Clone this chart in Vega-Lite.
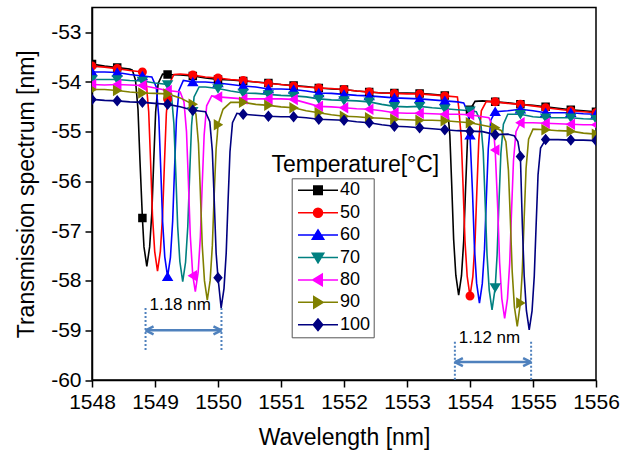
{
  "$schema": "https://vega.github.io/schema/vega-lite/v6.json",
  "width": 504,
  "height": 372.5,
  "autosize": {"type": "none"},
  "padding": {"left": 92, "top": 7.5, "right": 35, "bottom": 79},
  "background": "white",
  "config": {
    "view": {"stroke": "black", "strokeWidth": 1.5},
    "axis": {
      "domainColor": "black", "domainWidth": 1.5, "tickColor": "black", "tickWidth": 1.5,
      "labelFont": "Liberation Sans", "labelFontSize": 21, "labelColor": "black",
      "titleFont": "Liberation Sans", "titleFontSize": 23, "titleFontWeight": "normal", "titleColor": "black",
      "grid": false, "labelFlush": false, "labelOverlap": false, "labelPadding": 4
    }
  },
  "datasets": {
    "spec": [
      {"T":40,"x":1548.0,"y":-53.64},{"T":40,"x":1548.2,"y":-53.68},{"T":40,"x":1548.4,"y":-53.71},{"T":40,"x":1548.6,"y":-53.74},{"T":40,"x":1548.64,"y":-53.76},{"T":40,"x":1548.69,"y":-53.96},{"T":40,"x":1548.73,"y":-54.55},{"T":40,"x":1548.76,"y":-55.54},{"T":40,"x":1548.8,"y":-56.74},{"T":40,"x":1548.825,"y":-57.32},{"T":40,"x":1548.87,"y":-57.71},{"T":40,"x":1548.915,"y":-57.32},{"T":40,"x":1548.95,"y":-56.63},{"T":40,"x":1548.98,"y":-55.58},{"T":40,"x":1549.01,"y":-54.61},{"T":40,"x":1549.05,"y":-54.03},{"T":40,"x":1549.12,"y":-53.84},{"T":40,"x":1549.2,"y":-53.85},{"T":40,"x":1549.4,"y":-53.86},{"T":40,"x":1549.6,"y":-53.88},{"T":40,"x":1549.8,"y":-53.92},{"T":40,"x":1550.0,"y":-53.95},{"T":40,"x":1550.2,"y":-53.96},{"T":40,"x":1550.4,"y":-53.98},{"T":40,"x":1550.6,"y":-54.0},{"T":40,"x":1550.8,"y":-54.02},{"T":40,"x":1551.0,"y":-54.05},{"T":40,"x":1551.2,"y":-54.07},{"T":40,"x":1551.4,"y":-54.09},{"T":40,"x":1551.6,"y":-54.12},{"T":40,"x":1551.8,"y":-54.14},{"T":40,"x":1552.0,"y":-54.15},{"T":40,"x":1552.2,"y":-54.18},{"T":40,"x":1552.4,"y":-54.2},{"T":40,"x":1552.6,"y":-54.22},{"T":40,"x":1552.8,"y":-54.22},{"T":40,"x":1553.0,"y":-54.22},{"T":40,"x":1553.2,"y":-54.23},{"T":40,"x":1553.4,"y":-54.25},{"T":40,"x":1553.6,"y":-54.27},{"T":40,"x":1553.64,"y":-54.47},{"T":40,"x":1553.68,"y":-55.07},{"T":40,"x":1553.71,"y":-56.08},{"T":40,"x":1553.74,"y":-57.16},{"T":40,"x":1553.775,"y":-57.89},{"T":40,"x":1553.82,"y":-58.29},{"T":40,"x":1553.865,"y":-57.9},{"T":40,"x":1553.9,"y":-57.2},{"T":40,"x":1553.93,"y":-56.14},{"T":40,"x":1553.96,"y":-55.16},{"T":40,"x":1554.0,"y":-54.56},{"T":40,"x":1554.08,"y":-54.39},{"T":40,"x":1554.2,"y":-54.38},{"T":40,"x":1554.4,"y":-54.4},{"T":40,"x":1554.6,"y":-54.42},{"T":40,"x":1554.8,"y":-54.45},{"T":40,"x":1555.0,"y":-54.47},{"T":40,"x":1555.2,"y":-54.5},{"T":40,"x":1555.4,"y":-54.53},{"T":40,"x":1555.6,"y":-54.56},{"T":40,"x":1555.8,"y":-54.58},{"T":40,"x":1556.0,"y":-54.6},

      {"T":50,"x":1548.0,"y":-53.68},{"T":50,"x":1548.2,"y":-53.7},{"T":50,"x":1548.4,"y":-53.73},{"T":50,"x":1548.6,"y":-53.77},{"T":50,"x":1548.8,"y":-53.8},{"T":50,"x":1548.86,"y":-54.0},{"T":50,"x":1548.9,"y":-54.6},{"T":50,"x":1548.93,"y":-55.6},{"T":50,"x":1548.96,"y":-56.69},{"T":50,"x":1548.995,"y":-57.41},{"T":50,"x":1549.04,"y":-57.81},{"T":50,"x":1549.085,"y":-57.41},{"T":50,"x":1549.12,"y":-56.7},{"T":50,"x":1549.15,"y":-55.63},{"T":50,"x":1549.18,"y":-54.64},{"T":50,"x":1549.2,"y":-54.34},{"T":50,"x":1549.22,"y":-54.05},{"T":50,"x":1549.3,"y":-53.85},{"T":50,"x":1549.4,"y":-53.84},{"T":50,"x":1549.6,"y":-53.86},{"T":50,"x":1549.8,"y":-53.9},{"T":50,"x":1550.0,"y":-53.92},{"T":50,"x":1550.2,"y":-53.95},{"T":50,"x":1550.4,"y":-53.97},{"T":50,"x":1550.6,"y":-54.0},{"T":50,"x":1550.8,"y":-54.03},{"T":50,"x":1551.0,"y":-54.05},{"T":50,"x":1551.2,"y":-54.08},{"T":50,"x":1551.4,"y":-54.1},{"T":50,"x":1551.6,"y":-54.12},{"T":50,"x":1551.8,"y":-54.13},{"T":50,"x":1552.0,"y":-54.15},{"T":50,"x":1552.2,"y":-54.18},{"T":50,"x":1552.4,"y":-54.2},{"T":50,"x":1552.6,"y":-54.22},{"T":50,"x":1552.8,"y":-54.23},{"T":50,"x":1553.0,"y":-54.24},{"T":50,"x":1553.2,"y":-54.24},{"T":50,"x":1553.4,"y":-54.26},{"T":50,"x":1553.6,"y":-54.28},{"T":50,"x":1553.8,"y":-54.3},{"T":50,"x":1553.82,"y":-54.5},{"T":50,"x":1553.86,"y":-55.1},{"T":50,"x":1553.89,"y":-56.1},{"T":50,"x":1553.92,"y":-57.19},{"T":50,"x":1553.955,"y":-57.91},{"T":50,"x":1554.0,"y":-58.31},{"T":50,"x":1554.045,"y":-57.92},{"T":50,"x":1554.08,"y":-57.21},{"T":50,"x":1554.11,"y":-56.15},{"T":50,"x":1554.14,"y":-55.17},{"T":50,"x":1554.18,"y":-54.58},{"T":50,"x":1554.26,"y":-54.39},{"T":50,"x":1554.4,"y":-54.4},{"T":50,"x":1554.6,"y":-54.43},{"T":50,"x":1554.8,"y":-54.45},{"T":50,"x":1555.0,"y":-54.48},{"T":50,"x":1555.2,"y":-54.52},{"T":50,"x":1555.4,"y":-54.55},{"T":50,"x":1555.6,"y":-54.58},{"T":50,"x":1555.8,"y":-54.6},{"T":50,"x":1556.0,"y":-54.62},

      {"T":60,"x":1548.0,"y":-53.8},{"T":60,"x":1548.2,"y":-53.8},{"T":60,"x":1548.4,"y":-53.81},{"T":60,"x":1548.6,"y":-53.85},{"T":60,"x":1548.8,"y":-53.88},{"T":60,"x":1548.95,"y":-53.9},{"T":60,"x":1549.02,"y":-54.1},{"T":60,"x":1549.06,"y":-54.7},{"T":60,"x":1549.09,"y":-55.71},{"T":60,"x":1549.12,"y":-56.79},{"T":60,"x":1549.155,"y":-57.52},{"T":60,"x":1549.2,"y":-57.92},{"T":60,"x":1549.245,"y":-57.53},{"T":60,"x":1549.28,"y":-56.81},{"T":60,"x":1549.31,"y":-55.75},{"T":60,"x":1549.34,"y":-54.76},{"T":60,"x":1549.38,"y":-54.17},{"T":60,"x":1549.45,"y":-53.97},{"T":60,"x":1549.6,"y":-54.0},{"T":60,"x":1549.8,"y":-54.0},{"T":60,"x":1550.0,"y":-54.02},{"T":60,"x":1550.2,"y":-54.05},{"T":60,"x":1550.4,"y":-54.08},{"T":60,"x":1550.6,"y":-54.1},{"T":60,"x":1550.8,"y":-54.14},{"T":60,"x":1551.0,"y":-54.14},{"T":60,"x":1551.2,"y":-54.15},{"T":60,"x":1551.4,"y":-54.18},{"T":60,"x":1551.6,"y":-54.22},{"T":60,"x":1551.8,"y":-54.23},{"T":60,"x":1552.0,"y":-54.25},{"T":60,"x":1552.2,"y":-54.27},{"T":60,"x":1552.4,"y":-54.28},{"T":60,"x":1552.6,"y":-54.3},{"T":60,"x":1552.8,"y":-54.32},{"T":60,"x":1553.0,"y":-54.33},{"T":60,"x":1553.2,"y":-54.34},{"T":60,"x":1553.4,"y":-54.36},{"T":60,"x":1553.6,"y":-54.38},{"T":60,"x":1553.8,"y":-54.4},{"T":60,"x":1553.9,"y":-54.42},{"T":60,"x":1553.97,"y":-54.62},{"T":60,"x":1554.0,"y":-55.07},{"T":60,"x":1554.04,"y":-56.23},{"T":60,"x":1554.07,"y":-57.32},{"T":60,"x":1554.105,"y":-58.05},{"T":60,"x":1554.15,"y":-58.45},{"T":60,"x":1554.195,"y":-58.06},{"T":60,"x":1554.23,"y":-57.37},{"T":60,"x":1554.26,"y":-56.32},{"T":60,"x":1554.29,"y":-55.35},{"T":60,"x":1554.33,"y":-54.77},{"T":60,"x":1554.4,"y":-54.6},{"T":60,"x":1554.6,"y":-54.58},{"T":60,"x":1554.8,"y":-54.55},{"T":60,"x":1555.0,"y":-54.58},{"T":60,"x":1555.2,"y":-54.62},{"T":60,"x":1555.4,"y":-54.62},{"T":60,"x":1555.6,"y":-54.62},{"T":60,"x":1555.8,"y":-54.64},{"T":60,"x":1556.0,"y":-54.65},

      {"T":70,"x":1548.0,"y":-53.95},{"T":70,"x":1548.2,"y":-53.95},{"T":70,"x":1548.4,"y":-53.95},{"T":70,"x":1548.6,"y":-53.97},{"T":70,"x":1548.8,"y":-53.98},{"T":70,"x":1549.0,"y":-54.02},{"T":70,"x":1549.2,"y":-54.05},{"T":70,"x":1549.26,"y":-54.25},{"T":70,"x":1549.3,"y":-54.84},{"T":70,"x":1549.33,"y":-55.84},{"T":70,"x":1549.36,"y":-56.91},{"T":70,"x":1549.395,"y":-57.62},{"T":70,"x":1549.44,"y":-58.02},{"T":70,"x":1549.485,"y":-57.63},{"T":70,"x":1549.52,"y":-56.92},{"T":70,"x":1549.55,"y":-55.86},{"T":70,"x":1549.58,"y":-54.88},{"T":70,"x":1549.6,"y":-54.59},{"T":70,"x":1549.62,"y":-54.3},{"T":70,"x":1549.7,"y":-54.1},{"T":70,"x":1549.8,"y":-54.1},{"T":70,"x":1550.0,"y":-54.13},{"T":70,"x":1550.2,"y":-54.18},{"T":70,"x":1550.4,"y":-54.22},{"T":70,"x":1550.6,"y":-54.23},{"T":70,"x":1550.8,"y":-54.25},{"T":70,"x":1551.0,"y":-54.27},{"T":70,"x":1551.2,"y":-54.28},{"T":70,"x":1551.4,"y":-54.3},{"T":70,"x":1551.6,"y":-54.34},{"T":70,"x":1551.8,"y":-54.36},{"T":70,"x":1552.0,"y":-54.37},{"T":70,"x":1552.2,"y":-54.38},{"T":70,"x":1552.4,"y":-54.4},{"T":70,"x":1552.6,"y":-54.45},{"T":70,"x":1552.8,"y":-54.49},{"T":70,"x":1553.0,"y":-54.5},{"T":70,"x":1553.2,"y":-54.49},{"T":70,"x":1553.4,"y":-54.52},{"T":70,"x":1553.6,"y":-54.54},{"T":70,"x":1553.8,"y":-54.56},{"T":70,"x":1554.0,"y":-54.58},{"T":70,"x":1554.1,"y":-54.6},{"T":70,"x":1554.17,"y":-54.8},{"T":70,"x":1554.21,"y":-55.4},{"T":70,"x":1554.24,"y":-56.4},{"T":70,"x":1554.27,"y":-57.47},{"T":70,"x":1554.305,"y":-58.19},{"T":70,"x":1554.35,"y":-58.59},{"T":70,"x":1554.4,"y":-58.14},{"T":70,"x":1554.43,"y":-57.49},{"T":70,"x":1554.46,"y":-56.42},{"T":70,"x":1554.49,"y":-55.44},{"T":70,"x":1554.53,"y":-54.85},{"T":70,"x":1554.6,"y":-54.65},{"T":70,"x":1554.8,"y":-54.65},{"T":70,"x":1555.0,"y":-54.7},{"T":70,"x":1555.2,"y":-54.72},{"T":70,"x":1555.4,"y":-54.72},{"T":70,"x":1555.6,"y":-54.72},{"T":70,"x":1555.8,"y":-54.74},{"T":70,"x":1556.0,"y":-54.75},

      {"T":80,"x":1548.0,"y":-54.05},{"T":80,"x":1548.2,"y":-54.06},{"T":80,"x":1548.4,"y":-54.05},{"T":80,"x":1548.6,"y":-54.06},{"T":80,"x":1548.8,"y":-54.07},{"T":80,"x":1549.0,"y":-54.12},{"T":80,"x":1549.2,"y":-54.17},{"T":80,"x":1549.4,"y":-54.2},{"T":80,"x":1549.46,"y":-54.4},{"T":80,"x":1549.5,"y":-55.0},{"T":80,"x":1549.53,"y":-56.01},{"T":80,"x":1549.56,"y":-57.09},{"T":80,"x":1549.6,"y":-57.9},{"T":80,"x":1549.64,"y":-58.22},{"T":80,"x":1549.685,"y":-57.83},{"T":80,"x":1549.72,"y":-57.12},{"T":80,"x":1549.75,"y":-56.05},{"T":80,"x":1549.78,"y":-55.07},{"T":80,"x":1549.82,"y":-54.48},{"T":80,"x":1549.9,"y":-54.28},{"T":80,"x":1550.0,"y":-54.3},{"T":80,"x":1550.2,"y":-54.32},{"T":80,"x":1550.4,"y":-54.34},{"T":80,"x":1550.6,"y":-54.34},{"T":80,"x":1550.8,"y":-54.34},{"T":80,"x":1551.0,"y":-54.34},{"T":80,"x":1551.2,"y":-54.35},{"T":80,"x":1551.4,"y":-54.42},{"T":80,"x":1551.6,"y":-54.49},{"T":80,"x":1551.8,"y":-54.5},{"T":80,"x":1552.0,"y":-54.52},{"T":80,"x":1552.2,"y":-54.54},{"T":80,"x":1552.4,"y":-54.55},{"T":80,"x":1552.6,"y":-54.58},{"T":80,"x":1552.8,"y":-54.62},{"T":80,"x":1553.0,"y":-54.63},{"T":80,"x":1553.2,"y":-54.63},{"T":80,"x":1553.4,"y":-54.64},{"T":80,"x":1553.6,"y":-54.65},{"T":80,"x":1553.8,"y":-54.65},{"T":80,"x":1554.0,"y":-54.66},{"T":80,"x":1554.2,"y":-54.7},{"T":80,"x":1554.3,"y":-54.72},{"T":80,"x":1554.37,"y":-54.92},{"T":80,"x":1554.4,"y":-55.37},{"T":80,"x":1554.44,"y":-56.54},{"T":80,"x":1554.47,"y":-57.63},{"T":80,"x":1554.505,"y":-58.36},{"T":80,"x":1554.55,"y":-58.76},{"T":80,"x":1554.595,"y":-58.36},{"T":80,"x":1554.63,"y":-57.65},{"T":80,"x":1554.66,"y":-56.58},{"T":80,"x":1554.69,"y":-55.59},{"T":80,"x":1554.73,"y":-55.0},{"T":80,"x":1554.8,"y":-54.82},{"T":80,"x":1555.0,"y":-54.82},{"T":80,"x":1555.2,"y":-54.83},{"T":80,"x":1555.4,"y":-54.84},{"T":80,"x":1555.6,"y":-54.85},{"T":80,"x":1555.8,"y":-54.86},{"T":80,"x":1556.0,"y":-54.86},

      {"T":90,"x":1548.0,"y":-54.15},{"T":90,"x":1548.2,"y":-54.15},{"T":90,"x":1548.4,"y":-54.17},{"T":90,"x":1548.6,"y":-54.2},{"T":90,"x":1548.8,"y":-54.22},{"T":90,"x":1549.0,"y":-54.23},{"T":90,"x":1549.2,"y":-54.24},{"T":90,"x":1549.4,"y":-54.32},{"T":90,"x":1549.6,"y":-54.45},{"T":90,"x":1549.65,"y":-54.65},{"T":90,"x":1549.69,"y":-55.24},{"T":90,"x":1549.72,"y":-56.22},{"T":90,"x":1549.75,"y":-57.29},{"T":90,"x":1549.785,"y":-58.0},{"T":90,"x":1549.83,"y":-58.39},{"T":90,"x":1549.875,"y":-58.0},{"T":90,"x":1549.91,"y":-57.3},{"T":90,"x":1549.94,"y":-56.25},{"T":90,"x":1549.97,"y":-55.35},{"T":90,"x":1549.99,"y":-55.05},{"T":90,"x":1550.0,"y":-54.86},{"T":90,"x":1550.08,"y":-54.55},{"T":90,"x":1550.2,"y":-54.41},{"T":90,"x":1550.4,"y":-54.41},{"T":90,"x":1550.6,"y":-54.45},{"T":90,"x":1550.8,"y":-54.47},{"T":90,"x":1551.0,"y":-54.5},{"T":90,"x":1551.2,"y":-54.52},{"T":90,"x":1551.4,"y":-54.58},{"T":90,"x":1551.6,"y":-54.62},{"T":90,"x":1551.8,"y":-54.66},{"T":90,"x":1552.0,"y":-54.69},{"T":90,"x":1552.2,"y":-54.7},{"T":90,"x":1552.4,"y":-54.72},{"T":90,"x":1552.6,"y":-54.73},{"T":90,"x":1552.8,"y":-54.75},{"T":90,"x":1553.0,"y":-54.76},{"T":90,"x":1553.2,"y":-54.77},{"T":90,"x":1553.4,"y":-54.77},{"T":90,"x":1553.6,"y":-54.78},{"T":90,"x":1553.8,"y":-54.8},{"T":90,"x":1554.0,"y":-54.82},{"T":90,"x":1554.2,"y":-54.87},{"T":90,"x":1554.4,"y":-54.92},{"T":90,"x":1554.5,"y":-54.98},{"T":90,"x":1554.57,"y":-55.2},{"T":90,"x":1554.61,"y":-55.78},{"T":90,"x":1554.64,"y":-56.76},{"T":90,"x":1554.67,"y":-57.82},{"T":90,"x":1554.705,"y":-58.53},{"T":90,"x":1554.75,"y":-58.92},{"T":90,"x":1554.8,"y":-58.45},{"T":90,"x":1554.83,"y":-57.81},{"T":90,"x":1554.86,"y":-56.74},{"T":90,"x":1554.89,"y":-55.74},{"T":90,"x":1554.93,"y":-55.15},{"T":90,"x":1555.0,"y":-54.95},{"T":90,"x":1555.2,"y":-54.96},{"T":90,"x":1555.4,"y":-54.98},{"T":90,"x":1555.6,"y":-54.99},{"T":90,"x":1555.8,"y":-55.03},{"T":90,"x":1556.0,"y":-55.05},

      {"T":100,"x":1548.0,"y":-54.35},{"T":100,"x":1548.2,"y":-54.37},{"T":100,"x":1548.4,"y":-54.38},{"T":100,"x":1548.6,"y":-54.4},{"T":100,"x":1548.8,"y":-54.41},{"T":100,"x":1549.0,"y":-54.43},{"T":100,"x":1549.2,"y":-54.45},{"T":100,"x":1549.4,"y":-54.5},{"T":100,"x":1549.6,"y":-54.57},{"T":100,"x":1549.8,"y":-54.6},{"T":100,"x":1549.87,"y":-54.8},{"T":100,"x":1549.91,"y":-55.39},{"T":100,"x":1549.94,"y":-56.38},{"T":100,"x":1549.97,"y":-57.44},{"T":100,"x":1550.0,"y":-57.94},{"T":100,"x":1550.05,"y":-58.55},{"T":100,"x":1550.095,"y":-58.16},{"T":100,"x":1550.13,"y":-57.45},{"T":100,"x":1550.16,"y":-56.39},{"T":100,"x":1550.19,"y":-55.41},{"T":100,"x":1550.23,"y":-54.82},{"T":100,"x":1550.3,"y":-54.63},{"T":100,"x":1550.4,"y":-54.65},{"T":100,"x":1550.6,"y":-54.67},{"T":100,"x":1550.8,"y":-54.69},{"T":100,"x":1551.0,"y":-54.7},{"T":100,"x":1551.2,"y":-54.7},{"T":100,"x":1551.4,"y":-54.72},{"T":100,"x":1551.6,"y":-54.75},{"T":100,"x":1551.8,"y":-54.76},{"T":100,"x":1552.0,"y":-54.77},{"T":100,"x":1552.2,"y":-54.8},{"T":100,"x":1552.4,"y":-54.82},{"T":100,"x":1552.6,"y":-54.86},{"T":100,"x":1552.8,"y":-54.89},{"T":100,"x":1553.0,"y":-54.9},{"T":100,"x":1553.2,"y":-54.92},{"T":100,"x":1553.4,"y":-54.94},{"T":100,"x":1553.6,"y":-54.96},{"T":100,"x":1553.8,"y":-54.98},{"T":100,"x":1554.0,"y":-54.99},{"T":100,"x":1554.2,"y":-55.0},{"T":100,"x":1554.4,"y":-55.06},{"T":100,"x":1554.6,"y":-55.05},{"T":100,"x":1554.7,"y":-55.08},{"T":100,"x":1554.76,"y":-55.2},{"T":100,"x":1554.8,"y":-55.5},{"T":100,"x":1554.83,"y":-56.84},{"T":100,"x":1554.86,"y":-57.9},{"T":100,"x":1554.895,"y":-58.6},{"T":100,"x":1554.94,"y":-58.99},{"T":100,"x":1554.985,"y":-58.61},{"T":100,"x":1555.02,"y":-57.91},{"T":100,"x":1555.05,"y":-56.87},{"T":100,"x":1555.08,"y":-55.87},{"T":100,"x":1555.12,"y":-55.33},{"T":100,"x":1555.2,"y":-55.16},{"T":100,"x":1555.4,"y":-55.16},{"T":100,"x":1555.6,"y":-55.17},{"T":100,"x":1555.8,"y":-55.17},{"T":100,"x":1556.0,"y":-55.18}
    ],
    "dots": [
      {"x":1548.85,"y":-58.55,"y2":-59.43},{"x":1550.055,"y":-58.55,"y2":-59.43},
      {"x":1553.76,"y":-59.23,"y2":-60},{"x":1554.97,"y":-59.23,"y2":-60}
    ],
    "arrows": [
      {"x":1548.85,"x2":1550.055,"y":-59.0},
      {"x":1553.76,"x2":1554.97,"y":-59.64}
    ],
    "labels": [
      {"x":1549.40,"y":-58.49,"t":"1.18 nm"},
      {"x":1554.31,"y":-59.15,"t":"1.12 nm"}
    ],
    "ltitle": [
      {"x":1550.85,"y":-55.82,"t":"Temperature[°C]"}
    ]
  },
  "layer": [
    {
      "data": {"name": "spec"},
      "mark": {"type": "line", "strokeWidth": 1.6, "clip": true},
      "encoding": {
        "x": {"field": "x", "type": "quantitative",
          "scale": {"domain": [1548, 1556], "nice": false, "zero": false},
          "axis": {"title": "Wavelength [nm]", "values": [1548,1548.5,1549,1549.5,1550,1550.5,1551,1551.5,1552,1552.5,1553,1553.5,1554,1554.5,1555,1555.5,1556],
            "labelExpr": "datum.value % 1 === 0 ? '' + datum.value : ''",
            "tickSize": {"condition": {"test": "datum.value % 1 === 0", "value": 7}, "value": 4},
            "titlePadding": 14}},
        "y": {"field": "y", "type": "quantitative",
          "scale": {"domain": [-60, -52.5], "nice": false, "zero": false},
          "axis": {"title": "Transmission spectrum [nm]", "values": [-60,-59.5,-59,-58.5,-58,-57.5,-57,-56.5,-56,-55.5,-55,-54.5,-54,-53.5,-53,-52.5],
            "labelExpr": "datum.value % 1 === 0 ? '' + datum.value : ''",
            "tickSize": {"condition": {"test": "datum.value % 1 === 0", "value": 7}, "value": 4},
            "titlePadding": 12}},
        "stroke": {"field": "T", "type": "nominal",
          "scale": {"domain": [40,50,60,70,80,90,100], "range": ["#000000","#ff0000","#0000ff","#008080","#ff00ff","#808000","#000080"]},
          "legend": {"title": null, "orient": "none", "legendX": 199.7, "legendY": 170.8, "padding": 3,
            "strokeColor": "#555555", "labelFont": "Liberation Sans", "labelFontSize": 18, "labelColor": "black",
            "symbolSize": 100, "symbolStrokeWidth": 1.5, "symbolOffset": 14.3, "labelOffset": 13, "rowPadding": 4.4}},
        "detail": {"field": "T"}
      }
    },
    {
      "data": {"name": "spec"},
      "transform": [{"filter": "abs((datum.x - 1548) / 0.4 - round((datum.x - 1548) / 0.4)) < 0.001"}],
      "mark": {"type": "point", "filled": true, "size": 100, "opacity": 1, "clip": true},
      "encoding": {
        "x": {"field": "x", "type": "quantitative"},
        "y": {"field": "y", "type": "quantitative"},
        "color": {"field": "T", "type": "nominal",
          "scale": {"domain": [40,50,60,70,80,90,100], "range": ["#000000","#ff0000","#0000ff","#008080","#ff00ff","#808000","#000080"]}},
        "shape": {"field": "T", "type": "nominal",
          "scale": {"domain": [40,50,60,70,80,90,100], "range": [
            "M-4,0H4M-0.85,-0.85H0.85V0.85H-0.85Z",
            "M-4,0H4M0.9,0A0.9,0.9,0,1,1,-0.9,0A0.9,0.9,0,1,1,0.9,0Z",
            "M-4,0H4M0,-1.05L1.15,0.85L-1.15,0.85Z",
            "M-4,0H4M0,1.05L1.15,-0.85L-1.15,-0.85Z",
            "M-4,0H4M-1.05,0L0.85,-1.15L0.85,1.15Z",
            "M-4,0H4M1.05,0L-0.85,-1.15L-0.85,1.15Z",
            "M-4,0H4M0,-1.15L0.95,0L0,1.15L-0.95,0Z"]}}
      }
    },
    {
      "data": {"name": "dots"},
      "mark": {"type": "rule", "color": "#4f81bd", "strokeWidth": 2, "strokeDash": [2, 2]},
      "encoding": {"x": {"field": "x", "type": "quantitative"}, "y": {"field": "y", "type": "quantitative"}, "y2": {"field": "y2"}}
    },
    {
      "data": {"name": "arrows"},
      "mark": {"type": "rule", "color": "#4f81bd", "strokeWidth": 2.5},
      "encoding": {"x": {"field": "x", "type": "quantitative"}, "x2": {"field": "x2"}, "y": {"field": "y", "type": "quantitative"}}
    },
    {
      "data": {"name": "arrows"},
      "mark": {"type": "point", "shape": "M0,0L1.6,-0.8M0,0L1.6,0.8", "size": 100, "filled": false, "stroke": "#4f81bd", "strokeWidth": 2.5, "opacity": 1},
      "encoding": {"x": {"field": "x", "type": "quantitative"}, "y": {"field": "y", "type": "quantitative"}}
    },
    {
      "data": {"name": "arrows"},
      "mark": {"type": "point", "shape": "M0,0L-1.6,-0.8M0,0L-1.6,0.8", "size": 100, "filled": false, "stroke": "#4f81bd", "strokeWidth": 2.5, "opacity": 1},
      "encoding": {"x": {"field": "x2", "type": "quantitative"}, "y": {"field": "y", "type": "quantitative"}}
    },
    {
      "data": {"name": "labels"},
      "mark": {"type": "text", "font": "Liberation Sans", "fontSize": 17, "color": "black", "align": "center", "baseline": "middle"},
      "encoding": {"x": {"field": "x", "type": "quantitative"}, "y": {"field": "y", "type": "quantitative"}, "text": {"field": "t"}}
    },
    {
      "data": {"name": "ltitle"},
      "mark": {"type": "text", "font": "Liberation Sans", "fontSize": 23, "color": "black", "align": "left", "baseline": "alphabetic"},
      "encoding": {"x": {"field": "x", "type": "quantitative"}, "y": {"field": "y", "type": "quantitative"}, "text": {"field": "t"}}
    }
  ]
}
